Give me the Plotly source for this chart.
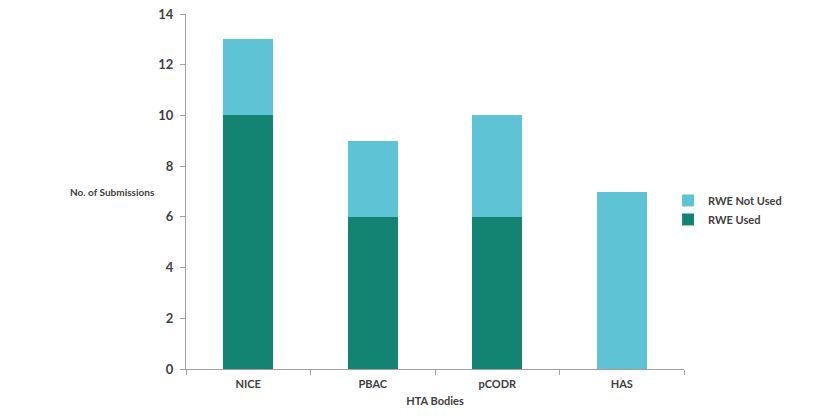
import plotly.graph_objects as go

categories = ["NICE", "PBAC", "pCODR", "HAS"]
rwe_used = [10, 6, 6, 0]
rwe_not_used = [3, 3, 4, 7]
y_ticks = [0, 2, 4, 6, 8, 10, 12, 14]

fig = go.Figure()
fig.add_trace(go.Bar(x=categories, y=rwe_used, name="RWE Used",
                     marker=dict(color="#138471", line=dict(width=0)), width=0.4))
fig.add_trace(go.Bar(x=categories, y=rwe_not_used, name="RWE Not Used",
                     marker=dict(color="#5fc3d6", line=dict(width=0)), width=0.4))

fig.update_layout(
    barmode="stack",
    width=840, height=420,
    margin=dict(l=186, r=156, t=14, b=51, autoexpand=False),
    paper_bgcolor="white", plot_bgcolor="white",
    font=dict(family="Lato", color="#404040"),
    showlegend=True,
    legend=dict(traceorder="reversed", x=0.968, y=0.448, xanchor="left", yanchor="middle",
                font=dict(size=11, family="Lato", color="#404040", weight="bold"),
                itemwidth=30, tracegroupgap=0),
    xaxis=dict(showline=True, linecolor="#a0a0a0", linewidth=1, ticks="outside",
               tickson="boundaries", ticklen=5, tickcolor="#a0a0a0", automargin=False,
               tickfont=dict(size=11, family="Lato", color="#404040"), ticklabelstandoff=5,
               tickvals=categories, ticktext=["<b>%s</b>" % c for c in categories],
               title=dict(text="<b>HTA Bodies</b>", font=dict(size=11), standoff=8)),
    yaxis=dict(range=[0, 14], showline=True, linecolor="#a0a0a0", linewidth=1,
               ticks="outside", ticklen=5, tickcolor="#a0a0a0", showgrid=False,
               automargin=False,
               zeroline=False, tickfont=dict(size=13, color="#404040"), ticklabelstandoff=4,
               tickvals=y_ticks, ticktext=["<b>%d</b>" % v for v in y_ticks]),
)
fig.add_annotation(text="<b>No. of Submissions</b>", xref="paper", yref="paper",
                   x=-0.058, y=0.5, xanchor="right", yanchor="middle", showarrow=False,
                   font=dict(size=10, color="#404040"))
fig.write_html("out.html", config={"displayModeBar": False},
               post_script="document.body.style.margin='0';")
